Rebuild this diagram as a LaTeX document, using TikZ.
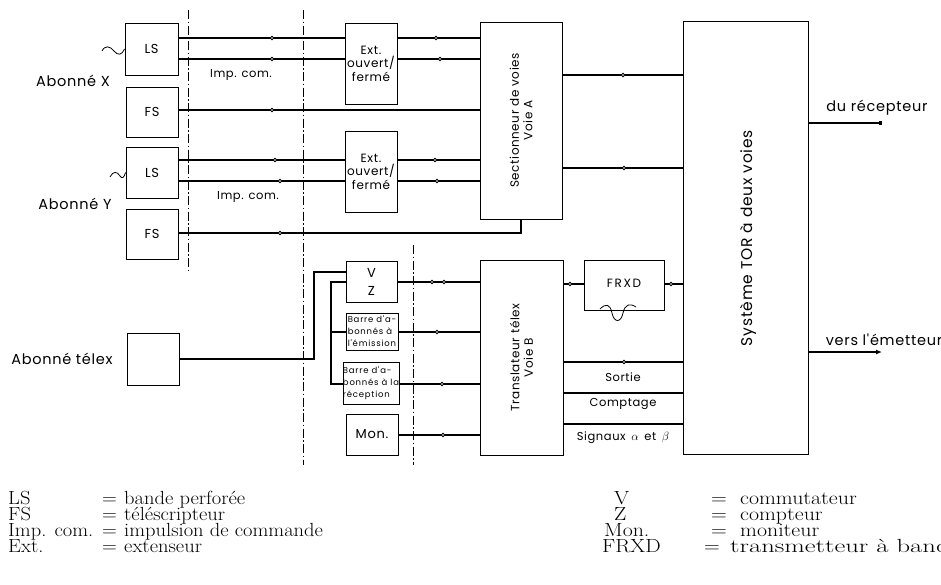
\documentclass[tikz,border=0pt]{standalone}
\usepackage{fontspec}
\newfontfamily\lab[LetterSpace=5]{Poppins}
\newfontfamily\labw[LetterSpace=14]{Poppins}
\newfontfamily\labs[LetterSpace=9]{Poppins}
\usetikzlibrary{arrows.meta}
\newcommand{\legtxt}[1]{\scalebox{1.08}[1]{#1}}
\newcommand{\legtxr}[1]{\scalebox{1.15}[1]{#1}}
\newcommand{\legtxw}[1]{\scalebox{1.4}[1]{#1}}
\tikzset{
  box/.style={draw, line width=0.9pt, inner sep=0pt, align=center},
  conn/.style={line width=1.8pt},
  sepline/.style={line width=0.7pt, dash pattern=on 9pt off 2.5pt on 1.5pt off 2.5pt},
  dotc/.style={line width=0.9pt, fill=white},
  thin/.style={line width=0.8pt},
  t14/.style={font=\lab\fontsize{14.5}{16}\selectfont, inner sep=0pt},
  t13/.style={font=\lab\fontsize{13}{15}\selectfont, inner sep=0pt, align=center},
  t12/.style={font=\lab\fontsize{12}{13.5}\selectfont, inner sep=0pt, align=center},
  t11/.style={font=\lab\fontsize{11.5}{13}\selectfont, inner sep=0pt},
  t8/.style={font=\labs\fontsize{8.5}{12}\selectfont, inner sep=0pt, align=left},
  leg/.style={anchor=base west, inner sep=0pt, font=\fontsize{19}{19}\selectfont},
}
\begin{document}
\begin{tikzpicture}[x=1pt,y=-1pt]
\useasboundingbox (0,0) rectangle (941,584);
\fill[white] (0,0) rectangle (941,584);

% separator lines
\draw[sepline] (188,10) -- (188,272);
\draw[sepline] (303,10) -- (303,465);
\draw[sepline] (413,245) -- (413,465);

% boxes
\node[box, minimum width=53pt, minimum height=52pt, t13] (lsx) at (151.5,49) {LS};
\node[box, minimum width=52pt, minimum height=50pt, t13] (fsx) at (152,112) {FS};
\node[box, minimum width=52pt, minimum height=51pt, t13] (lsy) at (152,172.5) {LS};
\node[box, minimum width=52pt, minimum height=50pt, t13] (fsy) at (152,234) {FS};
\node[box, minimum width=52pt, minimum height=52pt] (telex) at (153,359) {};
\node[box, minimum width=52pt, minimum height=81pt, t12] (ext1) at (371,63.5) {Ext.\\ouvert/\\fermé};
\node[box, minimum width=52pt, minimum height=81pt, t12] (ext2) at (371,171.5) {Ext.\\ouvert/\\fermé};
\node[box, minimum width=82pt, minimum height=197pt] (secA) at (521,120.5) {};
\node[box, minimum width=125pt, minimum height=433pt] (tor) at (745.5,237.5) {};
\node[box, minimum width=51pt, minimum height=41pt, t13] (vz) at (371.5,281.5) {V\\[3pt]Z};
\node[box, minimum width=52pt, minimum height=37pt, t8] (bem) at (372,331.5) {Barre d'a-\\bonnés à\\l'émission};
\node[box, minimum width=54pt, minimum height=42pt, t8] (brec) at (371,383) {Barre d'a-\\bonnés à la\\réception};
\node[box, minimum width=52pt, minimum height=41pt, t13] (mon) at (372,434.5) {Mon.};
\node[box, minimum width=83pt, minimum height=195pt] (trans) at (521.5,357.5) {};
\node[box, minimum width=80pt, minimum height=50pt] (frxd) at (624,285) {};
\node[font=\labw\fontsize{12}{14}\selectfont, inner sep=0pt] (frxdt) at (624,283) {FRXD};

% rotated titles
\node[t12, rotate=90] (secAt) at (secA.center) {Sectionneur de voies\\Voie A};
\node[t12, rotate=90] (transt) at (trans.center) {Translateur télex\\Voie B};
\node[font=\lab\fontsize{15.5}{17}\selectfont, inner sep=0pt, rotate=90] (tort) at (748,238) {Système TOR à deux voies};

% labels
\node[t14] (abx) at (73,81) {Abonné X};
\node[t14] (aby) at (75,204) {Abonné Y};
\node[t14] (abt) at (62,359) {Abonné télex};
\node[t11] (impx) at (241,75) {Imp. com.};
\node[t11] (impy) at (248,197) {Imp. com.};
\node[t14] (recl) at (877,108) {du récepteur};
\node[t14] (eml) at (884,340) {vers l'émetteur};
\node[t11] (sortie) at (623,377) {Sortie};
\node[t11] (compt) at (623,404) {Comptage};
\node[t11] (sign) at (623,438) {Signaux \,$\alpha$\, et \,$\beta$};

% squiggles
\draw[thin] (102,51) .. controls (105,45) and (110,46) .. (114,51) .. controls (118,56) and (122,55) .. (lsx.west);
\draw[thin] (110,177) .. controls (113,171) and (117,171) .. (120,176) .. controls (122,179) and (124,178) .. (lsy.west);
\draw[thin] (600,309) .. controls (606,303) and (610,304) .. (612,313) .. controls (614,323) and (621,323) .. (623,313) .. controls (625,304) and (630,303) .. (636,307);

% connectors abonne X
\draw[conn] (lsx.east|-0,38) -- (ext1.west|-0,38);
\draw[conn] (lsx.east|-0,59) -- (ext1.west|-0,59);
\draw[conn] (ext1.east|-0,38) -- (secA.west|-0,38);
\draw[conn] (ext1.east|-0,59) -- (secA.west|-0,59);
\draw[conn] (fsx.east|-0,110) -- (secA.west|-0,110);
% abonne Y
\draw[conn] (lsy.east|-0,160) -- (ext2.west|-0,160);
\draw[conn] (lsy.east|-0,181) -- (ext2.west|-0,181);
\draw[conn] (ext2.east|-0,160) -- (secA.west|-0,160);
\draw[conn] (ext2.east|-0,181) -- (secA.west|-0,181);
\draw[conn] (fsy.east|-0,233) -| (secA.south);
% secA to tor
\draw[conn] (secA.east|-0,75) -- (tor.west|-0,75);
\draw[conn] (secA.east|-0,168) -- (tor.west|-0,168);
% tor outputs
\coordinate (rec) at (882,123);
\coordinate (em) at (882,352);
\draw[conn, -{Square[length=3pt,width=4.5pt]}] (tor.east|-rec) -- (rec);
\draw[conn, -{Latex[length=6pt,width=5pt]}] (tor.east|-em) -- (em);
% telex
\coordinate (tk) at (314,272);
\draw[conn] (telex.east) -| (tk) -- (vz.west|-tk);
\coordinate (bk) at (331,282);
\draw[conn] (vz.west|-bk) -- (bk) |- (brec.west|-0,384);
\draw[conn] (bk|-0,332) -- (bem.west|-0,332);
% to translateur
\draw[conn] (vz.east|-0,282) -- (trans.west|-0,282);
\draw[conn] (bem.east|-0,332) -- (trans.west|-0,332);
\draw[conn] (brec.east|-0,384) -- (trans.west|-0,384);
\draw[conn] (mon.east|-0,435) -- (trans.west|-0,435);
% translateur to tor
\draw[conn] (trans.east|-0,284) -- (frxd.west|-0,284);
\draw[conn] (frxd.east|-0,284) -- (tor.west|-0,284);
\draw[conn] (trans.east|-0,362) -- (tor.west|-0,362);
\draw[conn] (trans.east|-0,393) -- (tor.west|-0,393);
\draw[conn] (trans.east|-0,424) -- (tor.west|-0,424);

% contact dots
\foreach \p in {(272,38),(436,38),(272,59),(440,59),(272,110),(275,160),(435,160),(280,181),(437,181),(280,233),(623,75),(624,168),(432,282),(444,282),(437,332),(442,384),(443,435),(570,284),(671,284),(624,362)}
  \draw[dotc] \p circle (1.8pt);

% legend
\node[leg] (l1a) at (8,504) {\legtxt{LS}};
\node[leg] (l1b) at (102,504) {\legtxt{=}};
\node[leg] (l1c) at (124,504) {\legtxt{bande perforée}};
\node[leg] (l2a) at (8,520) {\legtxt{FS}};
\node[leg] (l2b) at (102,520) {\legtxt{=}};
\node[leg] (l2c) at (124,520) {\legtxt{téléscripteur}};
\node[leg] (l3a) at (8,536) {\legtxt{Imp. com.}};
\node[leg] (l3b) at (102,536) {\legtxt{=}};
\node[leg] (l3c) at (124,536) {\legtxt{impulsion de commande}};
\node[leg] (l4a) at (8,552) {\legtxt{Ext.}};
\node[leg] (l4b) at (102,552) {\legtxt{=}};
\node[leg] (l4c) at (124,552) {\legtxt{extenseur}};
\node[leg] (r1a) at (614,504) {\legtxr{V}};
\node[leg] (r1b) at (711,504) {\legtxr{=}};
\node[leg] (r1c) at (740,504) {\legtxr{commutateur}};
\node[leg] (r2a) at (614,520) {\legtxr{Z}};
\node[leg] (r2b) at (711,520) {\legtxr{=}};
\node[leg] (r2c) at (740,520) {\legtxr{compteur}};
\node[leg] (r3a) at (604,536) {\legtxr{Mon.}};
\node[leg] (r3b) at (711,536) {\legtxr{=}};
\node[leg] (r3c) at (740,536) {\legtxr{moniteur}};
\node[leg] (r4a) at (602,552) {\legtxr{FRXD}};
\node[leg] (r4b) at (704,552) {\legtxr{=}};
\node[leg] (r4c) at (730,552) {\legtxw{transmetteur à bande}};
\end{tikzpicture}
\end{document}
